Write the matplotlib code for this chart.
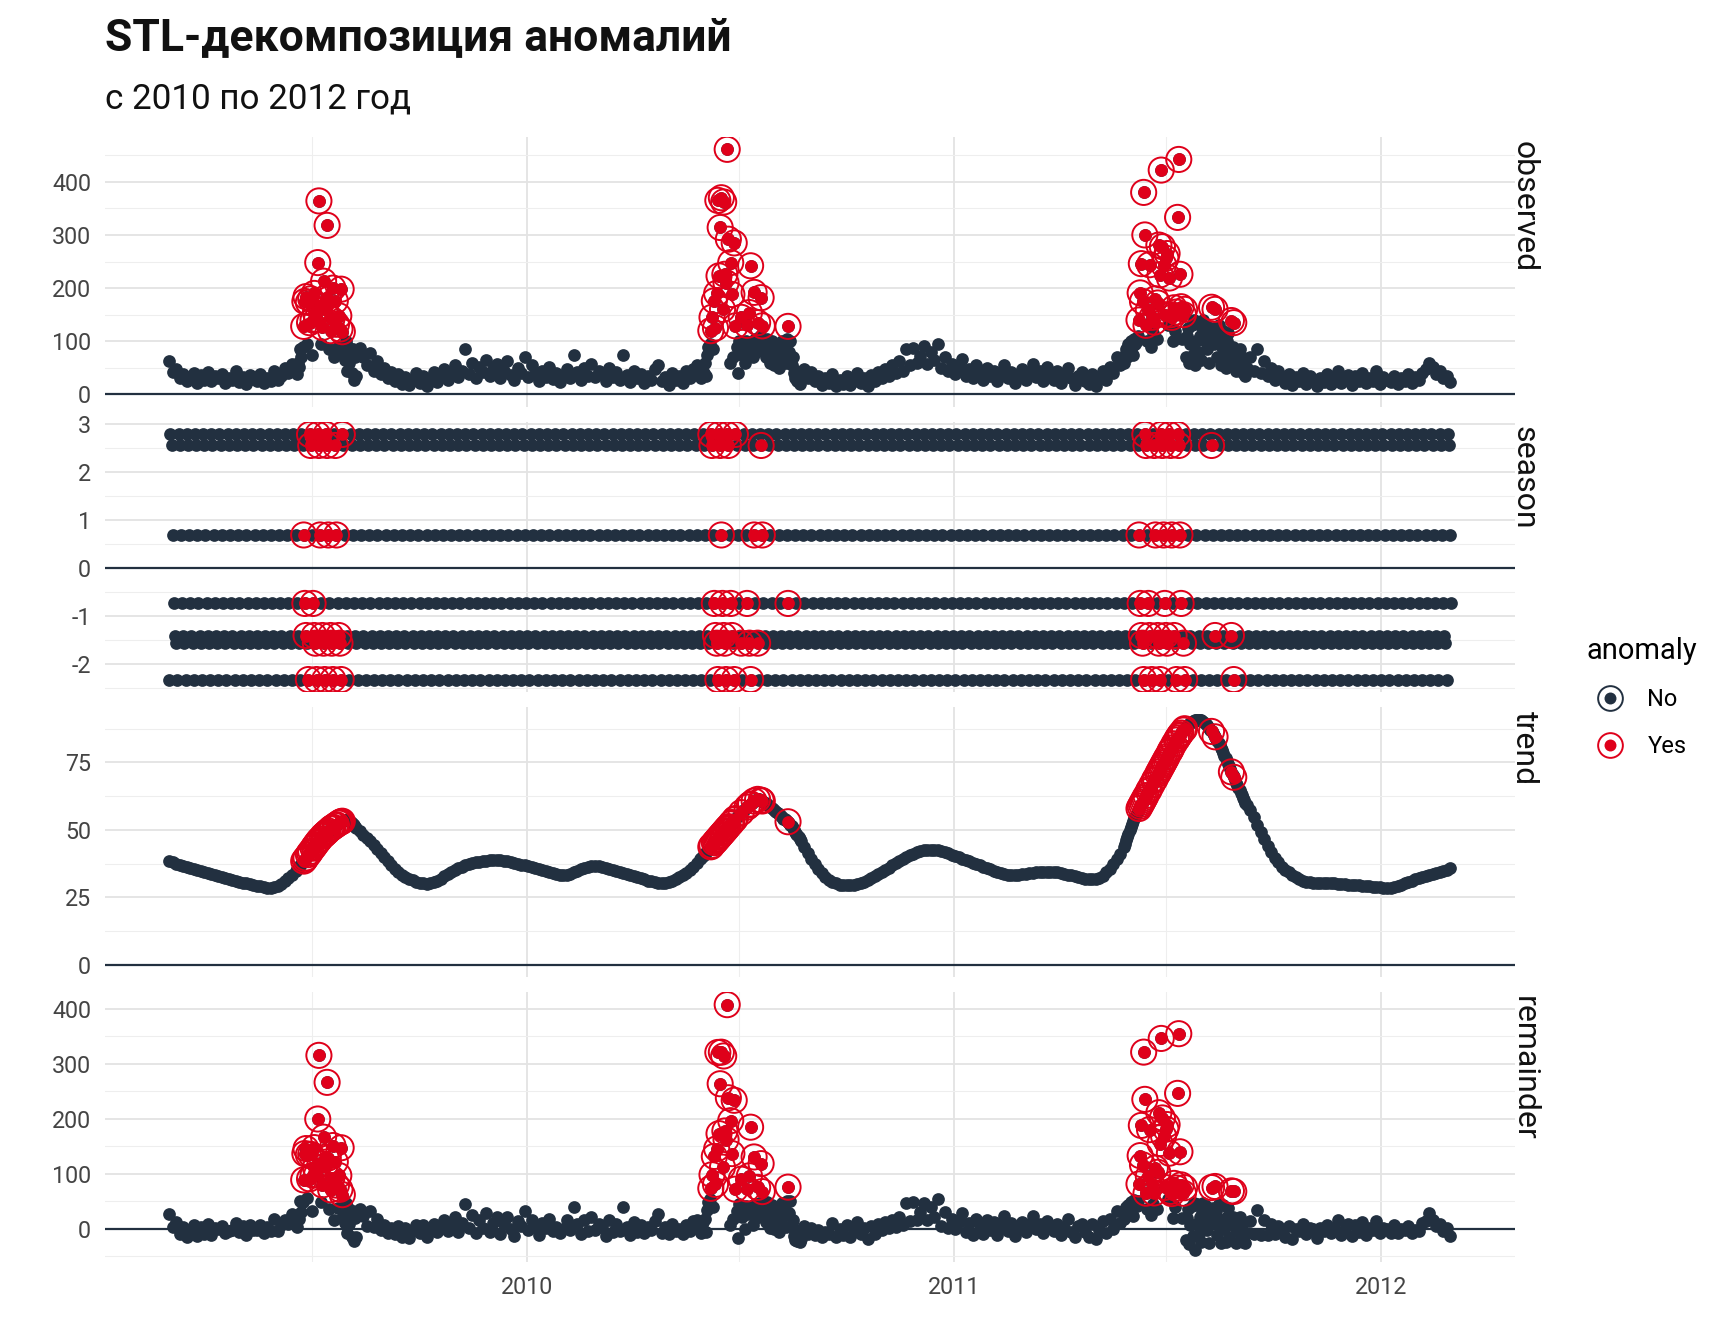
import numpy as np
import pandas as pd
import matplotlib
matplotlib.use("Agg")
import matplotlib.pyplot as plt
import matplotlib.dates as mdates
from matplotlib.ticker import MultipleLocator
from matplotlib.lines import Line2D
from matplotlib.legend_handler import HandlerTuple

plt.rcParams['font.family'] = ['Roboto', 'DejaVu Sans']
plt.rcParams['axes.unicode_minus'] = False

dark = '#223040'
red = '#DF001A'

start = pd.Timestamp('2009-03-01')
end = pd.Timestamp('2012-03-01')

# weekly seasonal component, Mon..Sun
season_by_weekday = [2.79, 2.56, 0.69, -0.74, -1.41, -1.57, -2.33]
# remainder above this is flagged as anomaly
upper_limit = 58

# quiet stretches are read every 3 days, spikes day by day
q1_obs = [62, 42, 48, 30, 38, 25, 33, 40, 22, 36,
          28, 42, 25, 34, 30, 38, 22, 31, 27, 44,
          24, 33, 20, 36, 29, 25, 38, 21, 30, 26,
          45, 28, 35, 50, 40, 58]
q1_trend = [38.3, 37.9, 37.5, 37.1, 36.7, 36.3, 35.9, 35.5, 35.1, 34.7,
            34.3, 33.9, 33.6, 33.3, 32.9, 32.5, 32.1, 31.7, 31.3, 31.0,
            30.7, 30.4, 30.1, 29.8, 29.5, 29.2, 29.0, 28.8, 28.6, 28.6,
            28.8, 29.3, 30.0, 30.9, 32.0, 33.4]

w1_obs = [45, 38, 60, 52, 85, 70, 90, 128, 175, 184,
          95, 173, 135, 180, 75, 140, 190, 154, 141, 248,
          364, 166, 95, 126, 213, 160, 182, 318, 179, 85,
          120, 141, 200, 70, 176, 132, 90, 148, 123, 198,
          118, 80, 65, 100, 45, 90, 60, 75, 40, 85,
          28, 70, 35]
w1_trend = [34.9, 35.4, 35.9, 36.4, 36.9, 37.4, 37.9, 38.4, 39.0, 39.6,
            40.2, 40.8, 41.4, 42.0, 42.6, 43.2, 43.8, 44.4, 45.0, 45.6,
            46.1, 46.6, 47.1, 47.6, 48.0, 48.4, 48.8, 49.2, 49.6, 50.0,
            50.4, 50.7, 51.0, 51.3, 51.6, 51.9, 52.2, 52.5, 52.8, 53.0,
            53.2, 53.4, 53.5, 53.6, 53.6, 53.5, 53.3, 53.0, 52.6, 52.2,
            51.7, 51.2, 50.7]

q2_obs = [88, 70, 55, 78, 45, 62, 38, 50, 30, 42,
          25, 38, 20, 33, 18, 28, 40, 22, 35, 16,
          30, 42, 24, 36, 48, 28, 40, 55, 33, 45,
          85, 38, 60, 30, 52, 42, 65, 35, 48, 58,
          30, 45, 62, 36, 28, 50, 40, 70, 32, 55,
          38, 26, 45, 33, 52, 29, 40, 24, 36, 48,
          30, 75, 42, 28, 50, 35, 58, 32, 45, 38,
          26, 50, 33, 42, 28, 75, 36, 24, 44, 30,
          38, 22, 35, 28, 48, 55, 25, 32, 18, 40,
          27, 35, 22, 44, 30, 48, 55]
q2_trend = [49.4, 48.2, 47.0, 45.7, 44.4, 43.0, 41.5, 40.0, 38.5, 37.0,
            35.6, 34.4, 33.4, 32.6, 31.9, 31.3, 30.8, 30.4, 30.1, 30.0,
            30.1, 30.5, 31.1, 31.9, 32.8, 33.7, 34.5, 35.2, 35.8, 36.3,
            36.8, 37.2, 37.6, 37.9, 38.2, 38.4, 38.6, 38.8, 38.9, 38.9,
            38.8, 38.6, 38.3, 38.0, 37.7, 37.4, 37.1, 36.8, 36.5, 36.2,
            35.8, 35.4, 35.0, 34.6, 34.2, 33.9, 33.6, 33.4, 33.3, 33.4,
            33.7, 34.2, 34.8, 35.4, 35.9, 36.3, 36.5, 36.6, 36.5, 36.3,
            36.0, 35.6, 35.2, 34.8, 34.4, 34.0, 33.6, 33.2, 32.8, 32.4,
            32.0, 31.6, 31.2, 30.9, 30.6, 30.4, 30.3, 30.4, 30.7, 31.2,
            31.8, 32.5, 33.3, 34.1, 35.0, 36.2, 37.6]

w2_obs = [45, 30, 55, 40, 60, 35, 75, 90, 95, 120,
          145, 85, 176, 125, 190, 365, 223, 314, 370, 160,
          362, 226, 210, 461, 292, 60, 248, 188, 70, 285,
          129, 90, 40, 100, 80, 145, 75, 95, 60, 100,
          130, 85, 154, 242, 90, 70, 192, 105, 80, 135,
          95, 110, 182, 129, 85, 100, 70, 105, 80, 95,
          60, 100, 75, 55, 90, 70, 95, 50, 85, 65,
          100, 75, 90, 60, 105, 128, 80, 100, 55, 70,
          40, 30, 45, 25, 35, 20, 30]
w2_trend = [39.2, 39.7, 40.2, 40.7, 41.2, 41.7, 42.2, 42.7, 43.2, 43.7,
            44.2, 44.7, 45.2, 45.7, 46.2, 46.7, 47.2, 47.7, 48.2, 48.7,
            49.2, 49.7, 50.2, 50.7, 51.2, 51.7, 52.2, 52.7, 53.2, 53.7,
            54.2, 54.7, 55.2, 55.6, 56.0, 56.4, 56.8, 57.2, 57.6, 58.0,
            58.4, 58.8, 59.2, 59.6, 60.0, 60.4, 60.7, 61.0, 61.2, 61.3,
            61.3, 61.2, 61.0, 60.7, 60.4, 60.1, 59.8, 59.5, 59.2, 58.9,
            58.6, 58.2, 57.8, 57.4, 57.0, 56.6, 56.2, 55.8, 55.4, 55.0,
            54.6, 54.2, 53.9, 53.6, 53.3, 53.0, 52.5, 51.9, 51.3, 50.7,
            50.0, 49.3, 48.6, 47.9, 47.2, 46.5, 45.8]

q3_obs = [48, 30, 42, 25, 35, 18, 30, 22, 38, 15,
          28, 20, 35, 18, 25, 40, 22, 30, 15, 36,
          26, 42, 30, 48, 35, 55, 40, 62, 45, 85,
          55, 88, 60, 72, 92, 58, 80, 65, 95, 50,
          70, 45, 58, 38, 52, 66, 35, 48, 30, 55,
          40, 28, 50, 35, 45, 25, 38, 55, 30, 42,
          22, 35, 48, 28, 40, 58, 32, 45, 26, 52,
          36, 28, 44, 22, 38, 50, 30, 18, 35, 42,
          25, 20, 38, 15, 30, 45, 28, 52, 40, 70,
          55]
q3_trend = [43.6, 41.4, 39.3, 37.3, 35.5, 33.9, 32.6, 31.5, 30.7, 30.1,
            29.7, 29.5, 29.4, 29.4, 29.5, 29.8, 30.2, 30.7, 31.3, 32.0,
            32.8, 33.6, 34.4, 35.2, 36.0, 36.8, 37.6, 38.4, 39.2, 39.9,
            40.6, 41.2, 41.7, 42.1, 42.4, 42.6, 42.7, 42.6, 42.4, 42.1,
            41.7, 41.3, 40.8, 40.3, 39.8, 39.3, 38.8, 38.3, 37.8, 37.3,
            36.8, 36.3, 35.8, 35.3, 34.8, 34.3, 33.9, 33.6, 33.4, 33.3,
            33.3, 33.4, 33.5, 33.7, 33.9, 34.1, 34.3, 34.4, 34.5, 34.5,
            34.5, 34.4, 34.2, 34.0, 33.7, 33.4, 33.1, 32.8, 32.5, 32.2,
            31.9, 31.7, 31.6, 31.7, 32.2, 33.0, 34.2, 35.6, 37.2, 39.0,
            41.0]

w3_obs = [60, 75, 85, 70, 95, 80, 100, 90, 75, 105,
          95, 100, 110, 140, 191, 246, 175, 380, 300, 130,
          100, 159, 244, 90, 145, 115, 136, 180, 105, 172,
          281, 225, 422, 278, 244, 150, 256, 265, 130, 219,
          150, 145, 100, 163, 120, 155, 333, 442, 226, 165,
          105, 150, 160, 70, 110, 125, 60, 95, 130, 75,
          140, 55, 100, 135, 80, 110, 65, 125, 140, 100,
          130, 85, 120, 60, 110, 164, 125, 95, 160, 115,
          70, 130, 100, 55, 90, 120, 75, 50, 100, 115,
          60, 85, 139, 90, 135, 75, 45, 80, 60, 85,
          45, 70, 40, 55, 35, 50]
w3_trend = [43.5, 44.8, 46.1, 47.4, 48.6, 49.8, 51.0, 52.1, 53.2, 54.3,
            55.3, 56.2, 57.1, 57.9, 58.7, 59.5, 60.3, 61.1, 61.9, 62.7,
            63.5, 64.3, 65.1, 65.9, 66.7, 67.5, 68.3, 69.1, 69.9, 70.7,
            71.5, 72.3, 73.1, 73.9, 74.7, 75.5, 76.3, 77.1, 77.9, 78.7,
            79.5, 80.3, 81.1, 81.9, 82.6, 83.3, 84.0, 84.7, 85.3, 85.9,
            86.5, 87.0, 87.5, 88.0, 88.4, 88.8, 89.2, 89.6, 89.9, 90.2,
            90.4, 90.6, 90.8, 90.9, 90.9, 90.8, 90.6, 90.3, 90.0, 89.6,
            89.2, 88.7, 88.2, 87.7, 87.1, 86.5, 85.9, 85.2, 84.5, 83.8,
            83.0, 82.2, 81.3, 80.4, 79.5, 78.5, 77.5, 76.5, 75.5, 74.5,
            73.5, 72.5, 71.5, 70.5, 69.5, 68.5, 67.5, 66.5, 65.5, 64.6,
            63.7, 62.8, 61.9, 61.0, 60.1, 59.2]

q4_obs = [70, 45, 85, 40, 62, 35, 50, 28, 44, 30,
          22, 38, 18, 32, 26, 40, 20, 35, 28, 16,
          30, 24, 38, 20, 33, 45, 22, 28, 36, 18,
          34, 26, 40, 21, 30, 25, 44, 19, 32, 27,
          24, 35, 20, 30, 26, 38, 22, 33, 28, 40,
          48, 60, 52, 38, 45, 30, 35, 24]
q4_trend = [57.3, 54.6, 51.9, 49.2, 46.6, 44.1, 41.8, 39.7, 37.9, 36.4,
            35.2, 34.2, 33.3, 32.5, 31.8, 31.2, 30.8, 30.5, 30.3, 30.2,
            30.2, 30.2, 30.2, 30.1, 30.1, 30.0, 29.9, 29.8, 29.7, 29.6,
            29.5, 29.4, 29.3, 29.2, 29.0, 28.9, 28.8, 28.7, 28.6, 28.5,
            28.6, 28.8, 29.2, 29.7, 30.2, 30.7, 31.2, 31.6, 32.0, 32.4,
            32.8, 33.2, 33.6, 34.0, 34.4, 34.8, 35.2, 35.7]

# (first day after start, step in days, observed, trend)
segments = [
    (0, 3, q1_obs, q1_trend),
    (108, 1, w1_obs, w1_trend),
    (163, 3, q2_obs, q2_trend),
    (454, 1, w2_obs, w2_trend),
    (543, 3, q3_obs, q3_trend),
    (816, 1, w3_obs, w3_trend),
    (924, 3, q4_obs, q4_trend),
]

days, observed, trend = [], [], []
for first, step, obs, tr in segments:
    assert len(obs) == len(tr)
    days += [first + step * i for i in range(len(obs))]
    observed += obs
    trend += tr

days = np.array(days)
observed = np.array(observed, dtype=float)
trend = np.array(trend)
dates = start + pd.to_timedelta(days, unit='D')
season = np.array(season_by_weekday)[dates.dayofweek]
remainder = observed - trend - season
anomaly = remainder > upper_limit

all_dates = pd.date_range(start, end, freq='D')
all_season = np.array(season_by_weekday)[all_dates.dayofweek]

panels = [
    ('observed', dates, observed, observed[anomaly], 100),
    ('season', all_dates, all_season, season[anomaly], 1),
    ('trend', dates, trend, trend[anomaly], 25),
    ('remainder', dates, remainder, remainder[anomaly], 100),
]

fig, axes = plt.subplots(4, 1, sharex=True, figsize=(8.64, 6.72), dpi=200)
fig.patch.set_facecolor('white')
fig.subplots_adjust(left=0.0608, right=0.877, top=0.898, bottom=0.061, hspace=0.0575)

for ax, (name, x, y, y_anom, step) in zip(axes, panels):
    ax.scatter(x, y, s=21, color=dark, linewidths=0, zorder=3)
    ax.scatter(dates[anomaly], y_anom, s=21, color=red, linewidths=0, zorder=4)
    ax.scatter(dates[anomaly], y_anom, s=82, facecolors='none',
               edgecolors=red, linewidths=0.7, zorder=5)
    ax.axhline(0, color=dark, lw=0.8, zorder=2)

    lo, hi = min(y.min(), 0), max(y.max(), 0)
    if name == 'season':
        lo, hi = y.min(), y.max()
    pad = 0.05 * (hi - lo)
    ax.set_ylim(lo - pad, hi + pad)

    ax.yaxis.set_major_locator(MultipleLocator(step))
    ax.yaxis.set_minor_locator(MultipleLocator(step / 2))
    ax.set_axisbelow(True)
    ax.grid(which='major', color='#E3E3E3', lw=0.65)
    ax.grid(which='minor', color='#EEEEEE', lw=0.4)
    for s in ax.spines.values():
        s.set_visible(False)
    ax.tick_params(which='both', length=0, labelsize=8.4, colors='#444444', pad=5)
    ax.text(1.006, 0.985, name, transform=ax.transAxes, rotation=-90,
            ha='center', va='top', fontsize=11.5, color='#111111')

axes[-1].xaxis.set_major_locator(mdates.YearLocator())
axes[-1].xaxis.set_major_formatter(mdates.DateFormatter('%Y'))
axes[-1].xaxis.set_minor_locator(mdates.MonthLocator(bymonth=7))
axes[-1].margins(x=0.05)

fig.text(0.0608, 0.963, 'STL-декомпозиция аномалий', fontsize=16,
         fontweight='bold', va='baseline', color='#111111')
fig.text(0.0608, 0.9195, 'с 2010 по 2012 год', fontsize=12.6,
         va='baseline', color='#111111')

handles = []
for c in (dark, red):
    dot = Line2D([], [], ls='none', marker='o', ms=4.3, color=c, mec='none')
    ring = Line2D([], [], ls='none', marker='o', ms=8.9, mfc='none', mec=c, mew=0.7)
    handles.append((dot, ring))
fig.legend(handles, ['No', 'Yes'], title='anomaly', loc='upper left',
           bbox_to_anchor=(0.911, 0.535), frameon=False, borderpad=0,
           handler_map={tuple: HandlerTuple(ndivide=1, pad=0)},
           fontsize=8.5, title_fontsize=10.5, alignment='left',
           handlelength=2.0, handletextpad=0.6, labelspacing=1.0)

fig.savefig('out.png', dpi=200, facecolor='white')
